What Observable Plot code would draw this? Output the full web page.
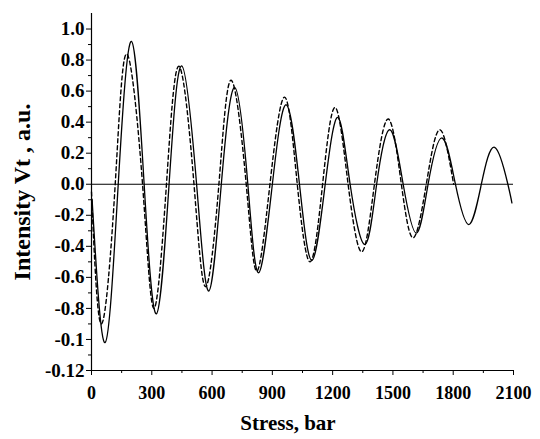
<!DOCTYPE html>
<html>
<head>
<meta charset="utf-8">
<script src="https://cdn.jsdelivr.net/npm/d3@7"></script>
<script src="https://cdn.jsdelivr.net/npm/@observablehq/plot@0.6"></script>
<style>
  html, body { margin: 0; padding: 0; background: white; }
  #chart svg text { font-family: 'Liberation Serif', 'Times New Roman', serif !important; font-weight: bold; fill: black; }
  #chart svg g[aria-label="x-axis tick label"] text { font-size: 18px; }
  #chart svg g[aria-label="y-axis tick label"] text { font-size: 19px; }
</style>
</head>
<body>
<div id="chart"></div>
<script>
// Solid curve
const solidStress = [3, 68, 133, 199, 262, 323, 386, 449, 523, 584, 646, 713, 778, 832, 900, 969, 1035, 1097, 1163, 1226, 1287, 1361, 1419, 1485, 1551, 1617, 1675, 1744, 1811, 1878, 1940, 2006, 2072, 2092];
const solidIntensity = [-0.1, -1.02, 0, 0.92, 0, -0.835, 0, 0.763, 0, -0.688, 0, 0.623, 0, -0.57, 0, 0.512, 0, -0.49, 0, 0.43, 0, -0.388, 0, 0.351, 0, -0.315, 0, 0.298, 0, -0.26, 0, 0.238, 0, -0.12];

// Dashed curve
const dashedStress = [0, 50, 118, 175, 254, 311, 373, 435, 510, 568, 634, 695, 770, 823, 888, 961, 1024, 1088, 1150, 1212, 1277, 1345, 1408, 1477, 1542, 1601, 1666, 1733, 1802];
const dashedIntensity = [-0.05, -0.9, 0, 0.84, 0, -0.8, 0, 0.76, 0, -0.66, 0, 0.67, 0, -0.56, 0, 0.561, 0, -0.5, 0, 0.495, 0, -0.435, 0, 0.42, 0, -0.345, 0, 0.351, 0];

// Axis ticks and labels
const xTicks = [0, 300, 600, 900, 1200, 1500, 1800, 2100];
const xMinorTicks = [150, 450, 750, 1050, 1350, 1650, 1950];
const yTicks = [1.0, 0.8, 0.6, 0.4, 0.2, 0.0, -0.2, -0.4, -0.6, -0.8, -1.0, -1.2];
const yTickLabels = ["1.0", "0.8", "0.6", "0.4", "0.2", "0.0", "-0.2", "-0.4", "-0.6", "-0.8", "-0.1", "-0.12"];
const yMinorTicks = [0.9, 0.7, 0.5, 0.3, 0.1, -0.1, -0.3, -0.5, -0.7, -0.9, -1.1];
const xTitle = "Stress, bar";
const yTitle = "Intensity Vt , a.u.";

const solid = solidStress.map((s, i) => ({stress: s, v: solidIntensity[i]}));
const dashed = dashedStress.map((s, i) => ({stress: s, v: dashedIntensity[i]}));
const yLabelMap = new Map(yTicks.map((t, i) => [t.toFixed(1), yTickLabels[i]]));

const font = "'Liberation Serif', 'Times New Roman', serif";

const chart = Plot.plot({
  width: 540,
  height: 439,
  marginLeft: 91,
  marginRight: 27,
  marginTop: 13,
  marginBottom: 69,
  style: {fontFamily: font, fontWeight: "bold", fontSize: "18px", color: "black", background: "white", overflow: "visible"},
  x: {domain: [0, 2100]},
  y: {domain: [-1.2, 1.1]},
  marks: [
    Plot.axisX({ticks: xTicks, tickSize: 5, tickPadding: 11, tickFormat: d => String(d), label: null, fontSize: 18, ariaLabel: "x-axis"}),
    Plot.axisX({ticks: xMinorTicks, tickSize: 3, tickFormat: () => "", label: null, ariaLabel: "x-minor"}),
    Plot.axisY({ticks: yTicks, tickSize: 5, tickPadding: 2, tickFormat: d => yLabelMap.get((+d).toFixed(1)), label: null, fontSize: 19, ariaLabel: "y-axis"}),
    Plot.axisY({ticks: yMinorTicks, tickSize: 3, tickFormat: () => "", label: null, ariaLabel: "y-minor"}),
    Plot.ruleY([0], {stroke: "black", strokeWidth: 1.2}),
    Plot.ruleX([0], {stroke: "black", strokeWidth: 1.2}),
    Plot.ruleY([-1.2], {stroke: "black", strokeWidth: 1.2}),
    Plot.line(dashed, {x: "stress", y: "v", curve: "natural", stroke: "black", strokeWidth: 1.4, strokeDasharray: "4,3"}),
    Plot.line(solid, {x: "stress", y: "v", curve: "natural", stroke: "black", strokeWidth: 1.3})
  ]
});

const svg = d3.select(chart);
svg.append("text")
  .attr("x", 288).attr("y", 430)
  .attr("text-anchor", "middle")
  .attr("font-family", font).attr("font-weight", "bold")
  .style("font-size", "21px")
  .attr("fill", "black")
  .text(xTitle);
svg.append("text")
  .attr("transform", "translate(30,192) rotate(-90)")
  .attr("text-anchor", "middle")
  .attr("font-family", font).attr("font-weight", "bold")
  .style("font-size", "24px")
  .attr("fill", "black")
  .text(yTitle);

document.getElementById("chart").appendChild(chart);
</script>
</body>
</html>
